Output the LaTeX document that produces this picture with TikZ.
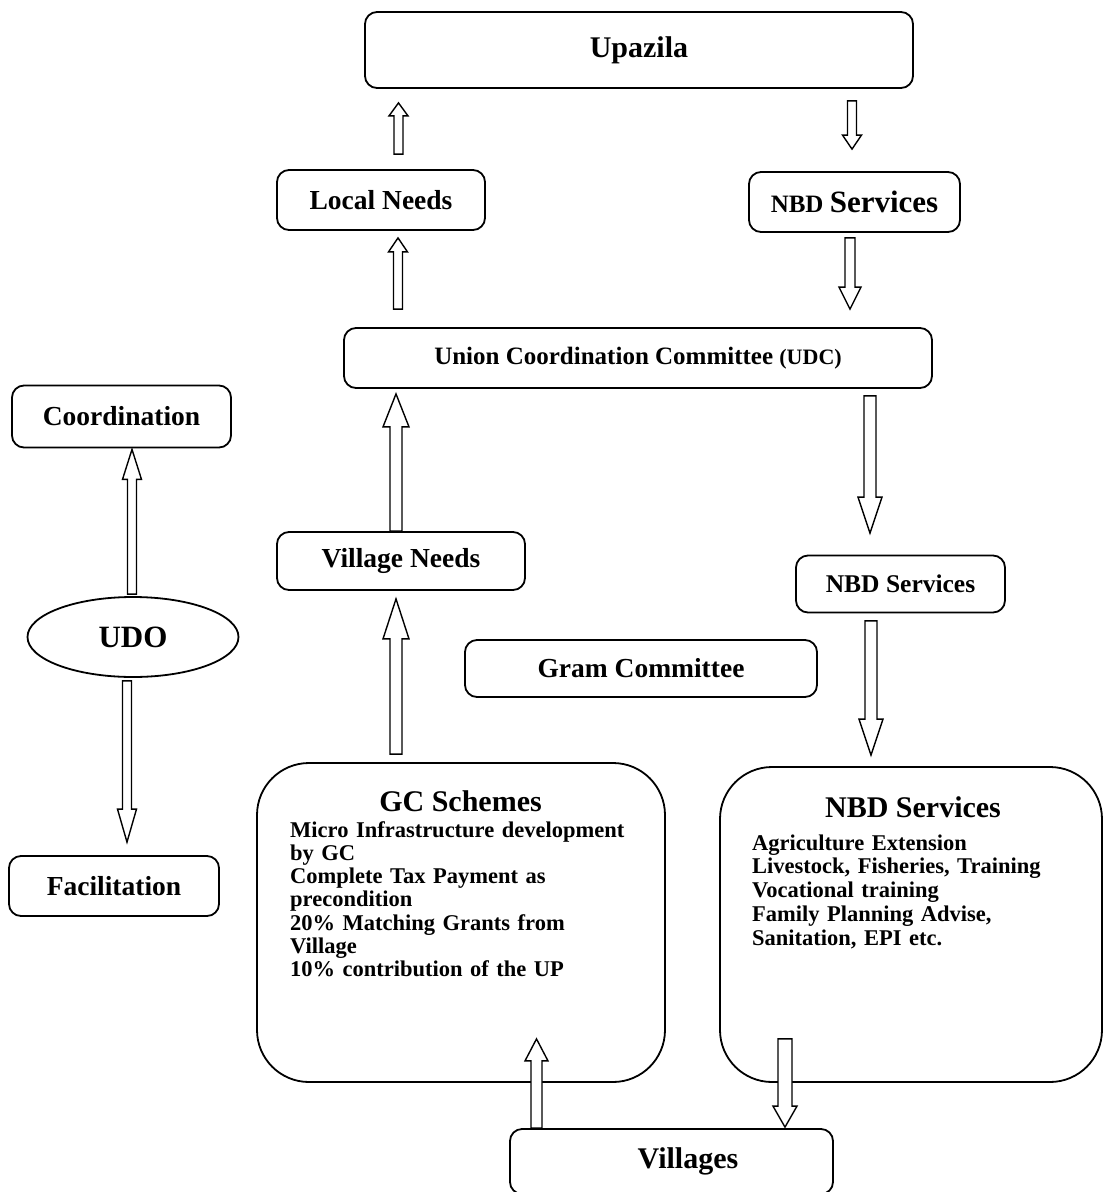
\documentclass[tikz,border=0pt]{standalone}
\usepackage{fontspec}
\setmainfont{Liberation Serif}
\usetikzlibrary{calc,positioning,shapes.geometric}

\newcommand{\fs}[1]{\fontsize{#1}{#1}\selectfont\bfseries}

\begin{document}
\begin{tikzpicture}[x=1pt,y=-1pt,
   box/.style={draw,line width=1.8,rounded corners=12,inner sep=0,font=\fs{27.5}},
   bigbox/.style={draw,line width=1.8,rounded corners=52,inner sep=0},
   oval/.style={draw,ellipse,line width=1.8,inner sep=0,font=\fs{31}},
   head/.style={anchor=base,inner sep=0,font=\fs{30}},
   list/.style={anchor=base west,inner sep=0,align=left,text width=370},
   shaftw/.store in=\shaftw, headw/.store in=\headw, headl/.store in=\headl,
   shaftw=9, headw=19, headl=14,
   hollow/.style={draw,fill=white,line width=1.4,to path={
      let \p1=(\tikztostart), \p2=(\tikztotarget), \n1={sign(\y2-\y1)*\headl} in
      (\x1-\shaftw/2,\y1) -- (\x1-\shaftw/2,\y2-\n1) -- (\x1-\headw/2,\y2-\n1) -- (\x1,\y2)
      -- (\x1+\headw/2,\y2-\n1) -- (\x1+\shaftw/2,\y2-\n1) -- (\x1+\shaftw/2,\y1) -- cycle}}]
   \useasboundingbox (0,0) rectangle (1107,1192);
   \clip (0,0) rectangle (1107,1192);

   % top levels
   \node [box,minimum width=548,minimum height=76,font=\fs{30}] (upazila) at (639,50) {Upazila};
   \node [box,minimum width=208,minimum height=60] (local) at (381,200) {Local Needs};
   \node [box,minimum width=211,minimum height=60] (nbd1) at (854.5,202) {\fs{25}NBD \fs{31}Services};
   \node [box,minimum width=588,minimum height=60,font=\fs{25}] (ucc) at (638,358) {Union Coordination Committee \fs{22}(UDC)};

   % UDO column
   \node [box,minimum width=219,minimum height=62] (coord) at (121.5,416.5) {Coordination};
   \node [oval,minimum width=211,minimum height=80] (udo) at (133,637) {UDO};
   \node [box,minimum width=210,minimum height=60] (facil) at (114,886) {Facilitation};

   % village level
   \node [box,minimum width=248,minimum height=58] (vneeds) at (401,561) {Village Needs};
   \node [box,minimum width=209,minimum height=57,font=\fs{25.5}] (nbd2) at (900.5,584) {NBD Services};
   \node [box,minimum width=352,minimum height=57] (gram) at (641,668.5) {Gram Committee};

   \node [bigbox,minimum width=408,minimum height=319] (gc) at (461,922.5) {};
   \node [head] (gchead) at (460.5,811) {GC Schemes};
   \node [list,font=\fontsize{22.5}{23.3}\selectfont\bfseries] (gclist) at (290,837)
      {Micro Infrastructure development\\ by GC\\ Complete Tax Payment as\\ precondition\\
       20\% Matching Grants from\\ Village\\ 10\% contribution of the UP};

   \node [bigbox,minimum width=382,minimum height=315] (nbd3) at (911,924.5) {};
   \node [head] (nbdhead) at (913,817) {NBD Services};
   \node [list,font=\fontsize{22.5}{23.8}\selectfont\bfseries] (nbdlist) at (752,850)
      {Agriculture Extension\\ Livestock, Fisheries, Training\\ Vocational training\\
       Family Planning Advise,\\ Sanitation, EPI etc.};

   \node [box,minimum width=323,minimum height=65,font=\fs{30}] (villages) at (671.5,1161.5) {\hspace{33pt}Villages};

   % block arrows
   \draw [hollow,headl=13] ([xshift=17.5,yshift=15]local.north) to ([yshift=-14]upazila.south);
   \draw [hollow] ([xshift=213,yshift=-12]upazila.south) to ([yshift=22]nbd1.north);
   \draw [hollow] ([xshift=-240,yshift=18]ucc.north) to ([yshift=-7]local.south);
   \draw [hollow,shaftw=10,headw=22,headl=22] ([xshift=-4.5,yshift=-5]nbd1.south) to ([yshift=18]ucc.north);
   \draw [hollow,shaftw=12,headw=26,headl=33] ([xshift=-5]vneeds.north) to ([yshift=-5]ucc.south);
   \draw [hollow,shaftw=12,headw=24,headl=36] ([xshift=232,yshift=-7]ucc.south) to ([yshift=21.5]nbd2.north);
   \draw [hollow,headl=30] ([xshift=-1,yshift=2]udo.north) to ([yshift=-1]coord.south);
   \draw [hollow,headl=33] ([xshift=-6,yshift=-3]udo.south) to ([yshift=13]facil.north);
   \draw [hollow,shaftw=12,headw=26,headl=40] ([xshift=-65,yshift=8]gc.north) to ([yshift=-8]vneeds.south);
   \draw [hollow,shaftw=12,headw=24,headl=36] ([xshift=-29.5,yshift=-7.5]nbd2.south) to ([yshift=11]nbd3.north);
   \draw [hollow,shaftw=11,headw=23,headl=22] ([xshift=-135]villages.north) to ([yshift=44]gc.south);
   \draw [hollow,shaftw=14,headw=24,headl=21] ([xshift=-126,yshift=44]nbd3.south) to ([yshift=1]villages.north);
\end{tikzpicture}
\end{document}
